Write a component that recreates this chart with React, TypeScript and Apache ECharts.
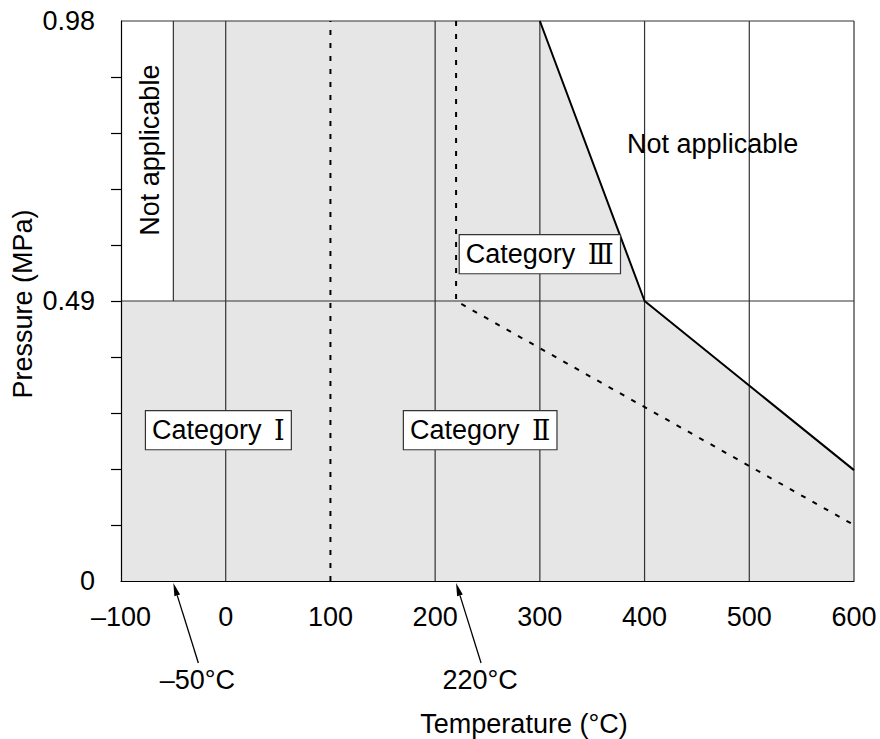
import React, { useEffect, useRef } from "react";
import * as echarts from "echarts";

// Axis ranges and ticks
const tempMin = -100;
const tempMax = 600;
const tempStep = 100;
const pressureMin = 0;
const pressureMax = 0.98;
const pressureStep = 0.098;
const pressureLabelValues = [0, 0.49, 0.98];
const pressureTickValues = [0.098, 0.196, 0.294, 0.392, 0.49, 0.588, 0.686, 0.784, 0.882];

// Shaded (applicable) region outline, temperature °C vs pressure MPa
const applicableOutline: [number, number][] = [
  [-100, 0.49],
  [-50, 0.49],
  [-50, 0.98],
  [300, 0.98],
  [400, 0.49],
  [600, 0.194],
];

// Upper limit of applicability (solid)
const applicableLimit: [number, number][] = [
  [300, 0.98],
  [400, 0.49],
  [600, 0.194],
];

// Category boundaries (dashed)
const categoryOneLimit: [number, number][] = [
  [100, 0],
  [100, 0.98],
];
const categoryTwoLimit: [number, number][] = [
  [220, 0.98],
  [220, 0.49],
  [600, 0.098],
];

// Thin reference lines
const gridTemps = [0, 200, 300, 400, 500];
const lowTempEdge: [number, number][] = [
  [-50, 0.49],
  [-50, 0.98],
];
const midPressureLine: [number, number][] = [
  [-100, 0.49],
  [600, 0.49],
];
const frameLines: [number, number][][] = [
  [
    [-100, 0.98],
    [600, 0.98],
  ],
  [
    [600, 0],
    [600, 0.98],
  ],
];

// Region labels: [temperature, pressure] of each label centre
const regionLabels = [
  { text: "Category", numeral: "Ⅰ", at: [-7, 0.264], boxed: true, rotate: 0 },
  { text: "Category", numeral: "Ⅱ", at: [243, 0.264], boxed: true, rotate: 0 },
  { text: "Category", numeral: "Ⅲ", at: [300, 0.572], boxed: true, rotate: 0 },
  { text: "Not applicable", numeral: "", at: [-72, 0.754], boxed: false, rotate: 90 },
  { text: "Not applicable", numeral: "", at: [465, 0.765], boxed: false, rotate: 0 },
];

// Call-outs pointing at axis temperatures
const tempCallouts = [
  { label: "–50°C", temp: -50 },
  { label: "220°C", temp: 220 },
];

const FONT = "'Liberation Sans', Arial, sans-serif";
const NUMERAL_FONT = "'DejaVu Serif', 'Noto Sans CJK JP', serif";
const FONT_SIZE = 27;

function segment(data: [number, number][], color: string, width: number, type: any, z: number) {
  return {
    type: "line",
    data,
    symbol: "none",
    silent: true,
    clip: false,
    z,
    lineStyle: { color, width, type },
  };
}

export default function App() {
  const ref = useRef<HTMLDivElement>(null);

  useEffect(() => {
    if (!ref.current) return;
    const chart = echarts.init(ref.current, null, { renderer: "svg" });

    const series: any[] = [
      {
        type: "line",
        data: applicableOutline,
        symbol: "none",
        silent: true,
        z: 1,
        lineStyle: { width: 0 },
        areaStyle: { color: "#e6e6e6", opacity: 1 },
      },
      ...gridTemps.map((t) =>
        segment(
          [
            [t, pressureMin],
            [t, pressureMax],
          ],
          "#333",
          1.2,
          "solid",
          3
        )
      ),
      segment(lowTempEdge, "#333", 1.2, "solid", 3),
      segment(midPressureLine, "#333", 1.2, "solid", 3),
      ...frameLines.map((f) => segment(f, "#333", 1.2, "solid", 3)),
      segment(categoryOneLimit, "#000", 2, [5, 8], 4),
      segment(categoryTwoLimit, "#000", 2, [5, 8], 4),
      segment(applicableLimit, "#000", 2, "solid", 4),
    ];

    const option: any = {
      animation: false,
      backgroundColor: "#fff",
      grid: { left: 121, right: 26, top: 21, bottom: 158 },
      xAxis: {
        type: "value",
        min: tempMin,
        max: tempMax,
        interval: tempStep,
        z: 5,
        splitLine: { show: false },
        axisTick: { show: false },
        axisLine: { onZero: false, lineStyle: { color: "#000", width: 1.2 } },
        axisLabel: {
          color: "#000",
          fontFamily: FONT,
          fontSize: FONT_SIZE,
          margin: 22,
          formatter: (v: number) => String(v).replace("-", "–"),
        },
      },
      yAxis: {
        type: "value",
        min: pressureMin,
        max: pressureMax,
        interval: pressureStep,
        z: 5,
        splitLine: { show: false },
        axisLine: { show: true, onZero: false, lineStyle: { color: "#000", width: 1.2 } },
        axisTick: {
          show: true,
          length: 10,
          customValues: pressureTickValues,
          lineStyle: { color: "#000", width: 1.2 },
        },
        axisLabel: {
          color: "#000",
          fontFamily: FONT,
          fontSize: FONT_SIZE,
          margin: 26,
          customValues: pressureLabelValues,
          formatter: (v: number) => (v === 0 ? "0" : v.toFixed(2)),
        },
      },
      series,
    };

    chart.setOption(option);

    const toPx = (p: number[]) => chart.convertToPixel({ gridIndex: 0 }, p) as number[];

    const graphics: any[] = [];

    regionLabels.forEach((r) => {
      const c = toPx(r.at);
      graphics.push({
        type: "text",
        x: c[0],
        y: c[1],
        rotation: r.rotate ? (r.rotate * Math.PI) / 180 : 0,
        z: 20,
        style: {
          text: r.numeral ? `{t|${r.text}} {n|${r.numeral}}` : r.text,
          fill: "#000",
          font: `${FONT_SIZE}px ${FONT}`,
          align: "center",
          verticalAlign: "middle",
          rich: {
            t: { fontFamily: FONT, fontSize: FONT_SIZE, fill: "#000", verticalAlign: "middle", lineHeight: 30 },
            n: {
              fontFamily: NUMERAL_FONT,
              fontSize: FONT_SIZE,
              fill: "#000",
              verticalAlign: "middle",
              lineHeight: 30,
              padding: [0, 0, 0, 5],
            },
          },
          backgroundColor: r.boxed ? "#fff" : undefined,
          borderColor: r.boxed ? "#333" : undefined,
          borderWidth: r.boxed ? 1.2 : 0,
          padding: r.boxed ? [4, 6, 4, 6] : 0,
        },
      });
    });

    tempCallouts.forEach((c) => {
      const head = toPx([c.temp, 0]);
      const tip = [head[0], head[1] + 2];
      const tail = [tip[0] + 25, tip[1] + 80];
      const dx = tip[0] - tail[0];
      const dy = tip[1] - tail[1];
      const len = Math.hypot(dx, dy);
      const ux = dx / len;
      const uy = dy / len;
      const base = [tip[0] - ux * 13, tip[1] - uy * 13];
      const px = -uy * 3;
      const py = ux * 3;
      graphics.push({
        type: "line",
        shape: { x1: tail[0], y1: tail[1], x2: base[0], y2: base[1] },
        style: { stroke: "#000", lineWidth: 1.3 },
        z: 10,
      });
      graphics.push({
        type: "polygon",
        shape: {
          points: [
            [tip[0], tip[1]],
            [base[0] + px, base[1] + py],
            [base[0] - px, base[1] - py],
          ],
        },
        style: { fill: "#000" },
        z: 10,
      });
      graphics.push({
        type: "text",
        x: head[0] + 24,
        y: head[1] + 99,
        style: {
          text: c.label,
          fill: "#000",
          font: `${FONT_SIZE}px ${FONT}`,
          align: "center",
          verticalAlign: "middle",
        },
        z: 10,
      });
    });

    graphics.push({
      type: "text",
      x: 524,
      y: 724,
      style: {
        text: "Temperature (°C)",
        fill: "#000",
        font: `${FONT_SIZE}px ${FONT}`,
        align: "center",
        verticalAlign: "middle",
      },
    });
    graphics.push({
      type: "text",
      x: 23,
      y: 304,
      rotation: Math.PI / 2,
      style: {
        text: "Pressure (MPa)",
        fill: "#000",
        font: `${FONT_SIZE}px ${FONT}`,
        align: "center",
        verticalAlign: "middle",
      },
    });

    chart.setOption({ graphic: graphics });

    return () => chart.dispose();
  }, []);

  return (
    <div
      ref={ref}
      style={{ position: "fixed", left: 0, top: 0, width: 880, height: 739 }}
    />
  );
}
